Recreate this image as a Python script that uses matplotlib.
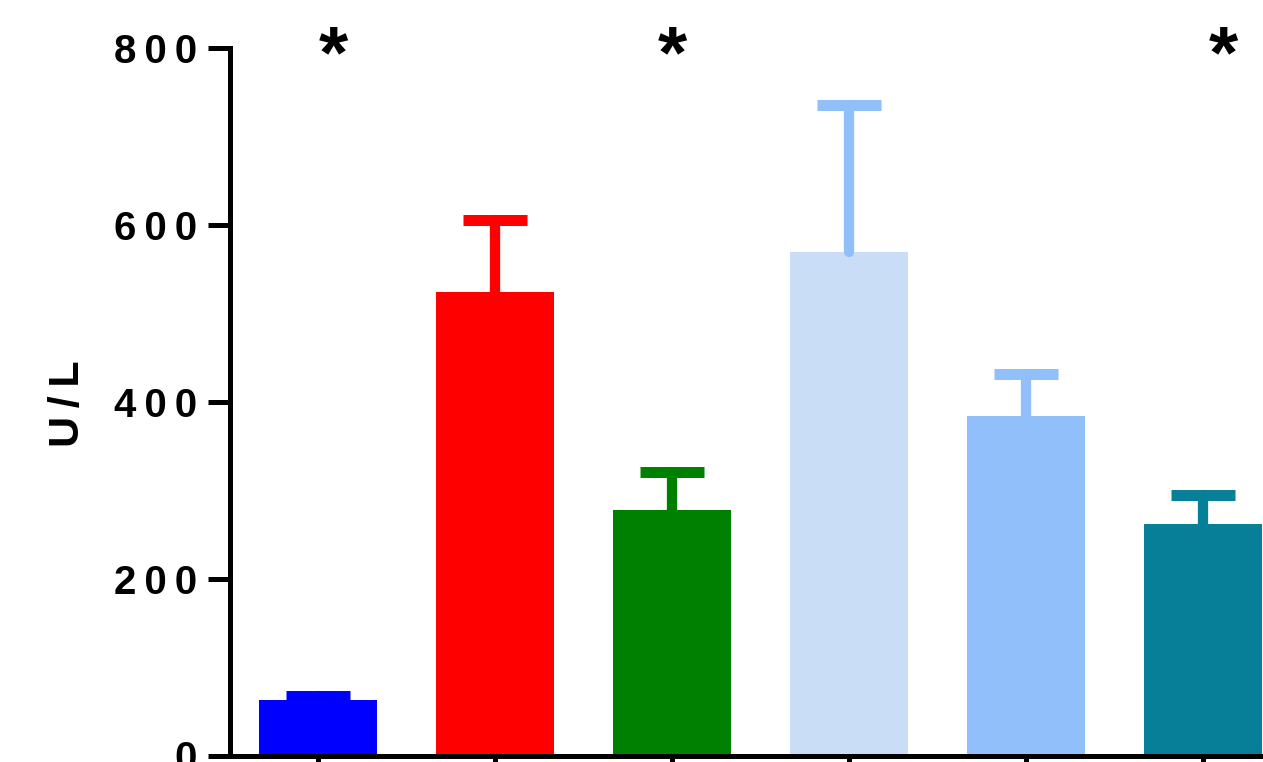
import matplotlib
matplotlib.use("Agg")
import matplotlib.pyplot as plt
import numpy as np

# ---- data ----
groups = ["G1", "G2", "G3", "G4", "G5", "G6"]
means = [63, 524, 278, 569, 384, 262]
err_top = [67, 605, 321, 735, 431, 294]
bar_colors = ["#0000ff", "#ff0000", "#008000", "#c9ddf7", "#91bff9", "#087f99"]
err_colors = ["#0000ff", "#ff0000", "#008000", "#91bff9", "#91bff9", "#087f99"]
sig_marks = ["*", "", "*", "", "", "*"]
sig_dx_px = [15, 0, 0, 0, 0, 20]
yticks = [0, 200, 400, 600, 800]
ytick_labels = ["0", "200", "400", "600", "800"]
ylabel = "U/L"

W, H = 1263, 762
fig = plt.figure(figsize=(W / 100, H / 100), dpi=100)
ax = fig.add_axes([230 / W, (H - 755.5) / H, (W - 230) / W, (755.5 - 48) / H])

FONT = "Liberation Sans"
x = np.arange(len(groups))
errs = [t - m for t, m in zip(err_top, means)]

ax.bar(x, means, width=118 / 177, color=bar_colors, zorder=2)
for i in range(len(groups)):
    eb = ax.errorbar(x[i], means[i], yerr=[[0], [errs[i]]], fmt="none",
                     ecolor=err_colors[i], elinewidth=7.4, capsize=23,
                     capthick=7.9, zorder=3)
    eb[1][0].set_visible(False)
    for lc in eb[2]:
        lc.set_capstyle("round")

ax.set_xlim(-88 / 177, -88 / 177 + (W - 230) / 177)
ax.set_ylim(0, 800)

for s in ["top", "right"]:
    ax.spines[s].set_visible(False)
for s in ["left", "bottom"]:
    ax.spines[s].set_linewidth(3.6)
    ax.spines[s].set_capstyle("projecting")

ax.set_yticks(yticks)
ax.set_yticklabels(["\u2009".join(t) for t in ytick_labels],
                   fontfamily=FONT, fontweight="bold", fontsize=29)
ax.set_xticks(x)
ax.set_xticklabels([""] * len(groups))
ax.tick_params(axis="both", direction="out", length=16, width=3.6, pad=8)

fig.text(68 / W, 1 - 404 / H, "\u2009".join(ylabel), rotation=90,
         ha="center", va="center", fontfamily=FONT, fontweight="bold",
         fontsize=31)

for i, m in enumerate(sig_marks):
    if m:
        ax.annotate(m, xy=(x[i], 800), xytext=(sig_dx_px[i] * 0.72, -7),
                    textcoords="offset points", ha="center", va="center",
                    fontfamily=FONT, fontweight="bold", fontsize=54,
                    annotation_clip=False)

fig.savefig("out.png", dpi=100)
